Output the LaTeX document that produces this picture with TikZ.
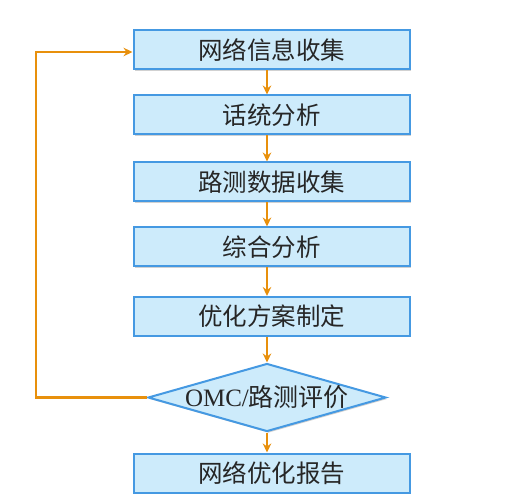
\documentclass[tikz,border=0pt]{standalone}
\usepackage{fontspec}
\setmainfont{Liberation Serif}
\newfontfamily\cjk{Noto Sans CJK SC}
\usetikzlibrary{shapes.geometric,arrows.meta,shadows}
\definecolor{boxfill}{HTML}{CDEBFB}
\definecolor{boxline}{HTML}{4599E2}
\definecolor{arr}{HTML}{E8900C}
\tikzset{
  stepbox/.style={draw=boxline, line width=2pt, fill=boxfill, minimum width=276pt, minimum height=39pt, inner sep=0pt,
    font=\fontsize{24.5pt}{28pt}\selectfont\cjk, text=black!85,
    drop shadow={shadow xshift=1.5pt, shadow yshift=-1.5pt, fill=black!30, opacity=.6}},
  decide/.style={draw=boxline, line width=2pt, fill=boxfill, diamond, aspect=3.5, minimum width=238pt, minimum height=68pt, inner sep=0pt,
    text=black!85, drop shadow={shadow xshift=1.5pt, shadow yshift=-1.5pt, fill=black!30, opacity=.6}},
  flow/.style={draw=arr, line width=2.2pt, -{Stealth[length=9pt,width=8.5pt]}},
}
\begin{document}
\begin{tikzpicture}[x=1pt,y=-1pt]
\useasboundingbox (0,0) rectangle (507,500);
\node[stepbox] (n1) at (271.5,50) {网络信息收集};
\node[stepbox] (n2) at (271.5,115) {话统分析};
\node[stepbox] (n3) at (271.5,182) {路测数据收集};
\node[stepbox] (n4) at (271.5,247) {综合分析};
\node[stepbox] (n5) at (271.5,316.5) {优化方案制定};
\node[decide] (d) at (267,397.5) {\makebox[0pt]{\fontsize{25pt}{28pt}\selectfont OMC/{\cjk 路测评价}}};
\node[stepbox] (n6) at (271.5,473) {网络优化报告};
\coordinate (c1) at (36,397.5);
\coordinate (c2) at (36,52);
\draw[flow] (n1.south -| d.north) -- (n2.north -| d.north);
\draw[flow] (n2.south -| d.north) -- (n3.north -| d.north);
\draw[flow] (n3.south -| d.north) -- (n4.north -| d.north);
\draw[flow] (n4.south -| d.north) -- (n5.north -| d.north);
\draw[flow] (n5.south -| d.north) -- (d.north);
\draw[flow] (d.south) -- (n6.north -| d.north);
\draw[flow] (d.west) -- (c1) -- (c2) -- (c2 -| n1.west);
\end{tikzpicture}
\end{document}
